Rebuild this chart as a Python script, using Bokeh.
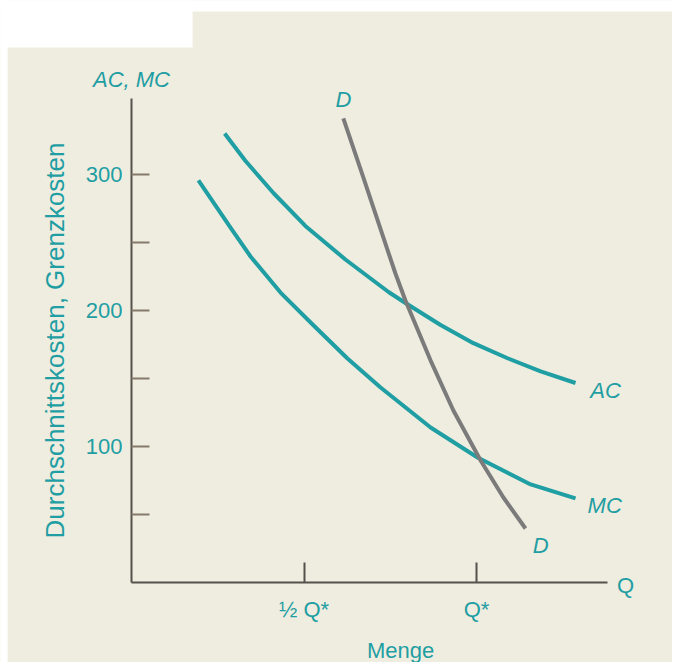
from bokeh.plotting import figure
from bokeh.models import Range1d, FixedTicker, Label, BoxAnnotation
from bokeh.embed import file_html
from bokeh.resources import INLINE

# ---- data ----
ac_q = [27.0, 33.0, 41.2, 50.4, 62.0, 74.5, 79.4, 89.6, 99.1, 109.0, 118.6, 128.7]
ac_c = [330.2, 310.1, 286.2, 262.2, 237.5, 213.6, 205.5, 189.3, 176.0, 164.9, 155.2, 146.7]

mc_q = [19.4, 28.7, 34.5, 43.2, 52.8, 62.6, 72.2, 86.7, 100.3, 115.7, 128.7]
mc_c = [295.6, 261.0, 239.7, 213.2, 189.0, 164.7, 143.4, 114.0, 91.9, 72.1, 61.8]

d_q = [61.4, 67.0, 72.8, 76.5, 79.4, 86.7, 93.3, 101.2, 107.8, 114.2]
d_p = [341.2, 299.3, 255.2, 227.2, 207.4, 163.2, 126.5, 89.7, 62.5, 39.7]

y_ticks = [50, 100, 150, 200, 250, 300]
y_tick_labels = {50: "", 100: "100", 150: "", 200: "200", 250: "", 300: "300"}
x_ticks = [50, 100]
x_tick_labels = {50: "\u00bd Q*", 100: "Q*"}

TEAL = "#1f9ea3"
GREY = "#7b7b7b"
BG = "#efeddf"
FONT = "Liberation Sans"

p = figure(width=672, height=662, output_backend="svg", toolbar_location=None,
           x_range=Range1d(-37.97, 156.81), y_range=Range1d(-58.82, 427.94),
           min_border=0, min_border_left=0, min_border_right=0,
           min_border_top=0, min_border_bottom=0)
p.background_fill_color = BG
p.border_fill_color = BG
p.outline_line_color = None
p.grid.visible = False

# white scan margins (top-left notch, top strip, left strip)
for kw in (dict(left=-40, right=17.7, bottom=393.4, top=430),
           dict(left=-40, right=160, bottom=419.9, top=430),
           dict(left=-40, right=-35.9, bottom=-60, top=430)):
    p.add_layout(BoxAnnotation(fill_color="white", fill_alpha=1.0, line_color=None,
                               level="underlay", **kw))

# axes placed at the origin
yax = p.yaxis[0]
yax.fixed_location = 0
yax.bounds = (0, 356)
yax.ticker = FixedTicker(ticks=y_ticks)
yax.major_label_overrides = y_tick_labels
yax.minor_tick_line_color = None
yax.major_tick_in = 18
yax.major_tick_out = 0
yax.major_tick_line_color = "#857b6d"
yax.major_tick_line_width = 2
yax.axis_line_color = "#55524d"
yax.axis_line_width = 2
yax.major_label_text_color = TEAL
yax.major_label_text_font = FONT
yax.major_label_text_font_size = "22px"
yax.major_label_standoff = 9
yax.axis_label = "Durchschnittskosten, Grenzkosten"
yax.axis_label_text_color = TEAL
yax.axis_label_text_font = FONT
yax.axis_label_text_font_style = "normal"
yax.axis_label_text_font_size = "26px"
yax.axis_label_standoff = 13

xax = p.xaxis[0]
xax.fixed_location = 0
xax.bounds = (0, 138)
xax.ticker = FixedTicker(ticks=x_ticks)
xax.major_label_overrides = x_tick_labels
xax.minor_tick_line_color = None
xax.major_tick_in = 20
xax.major_tick_out = 0
xax.major_tick_line_color = "#55524d"
xax.major_tick_line_width = 2
xax.axis_line_color = "#55524d"
xax.axis_line_width = 2
xax.major_label_text_color = TEAL
xax.major_label_text_font = FONT
xax.major_label_text_font_size = "22px"
xax.major_label_standoff = 14

# curves
p.line(ac_q, ac_c, line_color=TEAL, line_width=4, line_join="round")
p.line(mc_q, mc_c, line_color=TEAL, line_width=4, line_join="round")
p.line(d_q, d_p, line_color=GREY, line_width=4, line_join="round")

def lab(x, y, t, align="center", style="italic", size="22px"):
    p.add_layout(Label(x=x, y=y, text=t, text_align=align, text_baseline="middle",
                       text_color=TEAL, text_font=FONT, text_font_style=style,
                       text_font_size=size))

lab(0, 370, "AC, MC")
lab(61.4, 355, "D")
lab(133.0, 141, "AC", align="left")
lab(132.2, 56.6, "MC", align="left")
lab(118.6, 27.2, "D")
lab(143.2, -2.2, "Q", style="normal")
lab(78, -50, "Menge", style="normal")

open("out.html", "w").write(file_html(p, INLINE))
